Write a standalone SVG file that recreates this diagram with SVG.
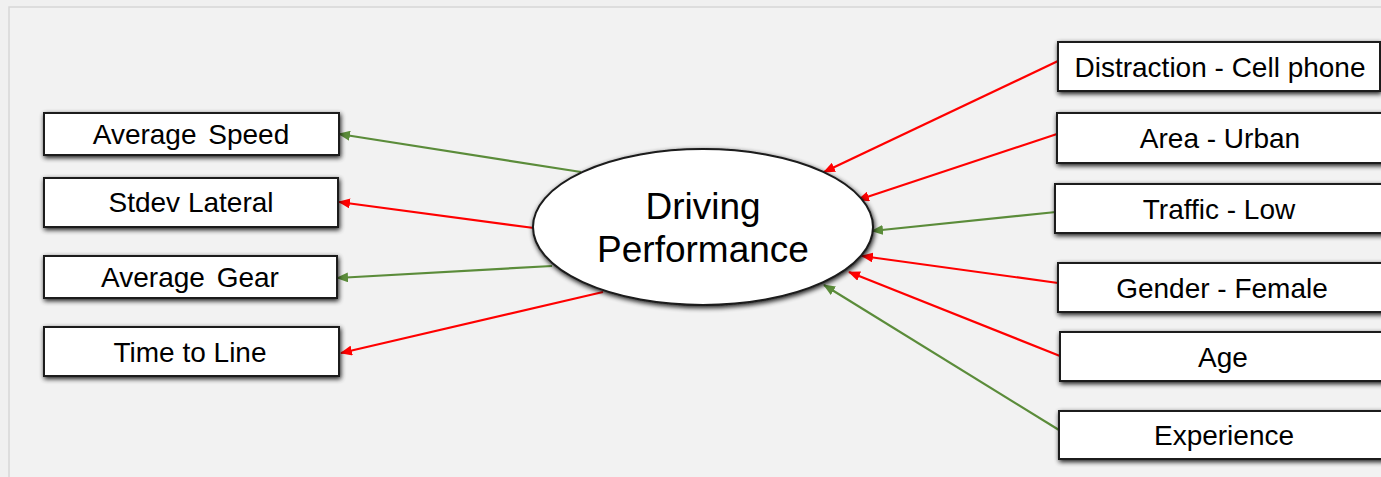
<svg xmlns="http://www.w3.org/2000/svg" width="1381" height="477" viewBox="0 0 1381 477">
  <defs>
    <filter id="shadow" x="-10%" y="-30%" width="120%" height="160%">
      <feGaussianBlur in="SourceAlpha" stdDeviation="2.5"/>
      <feOffset dx="1" dy="1.5" result="blur"/>
      <feComponentTransfer><feFuncA type="linear" slope="0.9"/></feComponentTransfer>
      <feMerge><feMergeNode/><feMergeNode in="SourceGraphic"/></feMerge>
    </filter>
    <marker id="head-red" viewBox="0 0 12 10" refX="11" refY="5" markerWidth="12" markerHeight="10" markerUnits="userSpaceOnUse" orient="auto">
      <path d="M0,0 L12,5 L0,10 Z" fill="#ff0000"/>
    </marker>
    <marker id="head-green" viewBox="0 0 12 10" refX="11" refY="5" markerWidth="12" markerHeight="10" markerUnits="userSpaceOnUse" orient="auto">
      <path d="M0,0 L12,5 L0,10 Z" fill="#5b8c3a"/>
    </marker>
  </defs>
  <style>
    .box { fill: #ffffff; stroke: #1a1a1a; stroke-width: 2; filter: url(#shadow); }
    .label { font-family: "Liberation Sans", Arial, sans-serif; font-size: 28px; fill: #000; text-anchor: middle; }
    .title { font-family: "Liberation Sans", Arial, sans-serif; font-size: 37px; fill: #000; text-anchor: middle; }
    .red { stroke: #ff0000; stroke-width: 2.2; fill: none; marker-end: url(#head-red); }
    .green { stroke: #5b8c3a; stroke-width: 2.2; fill: none; marker-end: url(#head-green); }
  </style>

  <!-- canvas -->
  <rect x="0" y="0" width="1381" height="477" fill="#f0f0f0"/>
  <rect x="9" y="7" width="1380" height="480" fill="#f2f2f2" stroke="#d6d6d6" stroke-width="1.5"/>

  <!-- connectors -->
  <g id="connectors">
    <line class="green" x1="581" y1="172" x2="339" y2="134"/>
    <line class="red" x1="534" y1="228" x2="339" y2="202"/>
    <line class="green" x1="552" y1="266" x2="337" y2="278"/>
    <line class="red" x1="603" y1="292" x2="341" y2="353"/>
    <line class="red" x1="1058" y1="61" x2="824" y2="172"/>
    <line class="red" x1="1057" y1="134" x2="858" y2="200"/>
    <line class="green" x1="1056" y1="212" x2="872" y2="231"/>
    <line class="red" x1="1058" y1="283" x2="862" y2="256"/>
    <line class="red" x1="1060" y1="356" x2="849" y2="272"/>
    <line class="green" x1="1059" y1="430" x2="824" y2="285"/>
  </g>

  <!-- central concept -->
  <g id="driving-performance">
    <ellipse cx="703" cy="227" rx="170" ry="78" fill="#ffffff" stroke="#1a1a1a" stroke-width="2" filter="url(#shadow)"/>
    <text class="title" x="703" y="219">Driving</text>
    <text class="title" x="703" y="262">Performance</text>
  </g>

  <!-- outcome measures -->
  <g id="average-speed">
    <rect class="box" x="44" y="113" width="295" height="42"/>
    <text class="label" x="191" y="144" word-spacing="4">Average Speed</text>
  </g>
  <g id="stdev-lateral">
    <rect class="box" x="44" y="178" width="294" height="49"/>
    <text class="label" x="191" y="212">Stdev Lateral</text>
  </g>
  <g id="average-gear">
    <rect class="box" x="44" y="256" width="293" height="42"/>
    <text class="label" x="190" y="287" word-spacing="4">Average Gear</text>
  </g>
  <g id="time-to-line">
    <rect class="box" x="44" y="327" width="295" height="49"/>
    <text class="label" x="190" y="362">Time to Line</text>
  </g>

  <!-- factors -->
  <g id="distraction">
    <rect class="box" x="1058" y="42" width="322" height="49"/>
    <text class="label" x="1220" y="77">Distraction - Cell phone</text>
  </g>
  <g id="area">
    <rect class="box" x="1057" y="113" width="330" height="50"/>
    <text class="label" x="1220" y="148">Area - Urban</text>
  </g>
  <g id="traffic">
    <rect class="box" x="1055" y="184" width="332" height="49"/>
    <text class="label" x="1219" y="219">Traffic - Low</text>
  </g>
  <g id="gender">
    <rect class="box" x="1058" y="263" width="330" height="49"/>
    <text class="label" x="1222" y="298">Gender - Female</text>
  </g>
  <g id="age">
    <rect class="box" x="1060" y="332" width="330" height="49"/>
    <text class="label" x="1223" y="367">Age</text>
  </g>
  <g id="experience">
    <rect class="box" x="1059" y="411" width="330" height="48"/>
    <text class="label" x="1224" y="445">Experience</text>
  </g>
</svg>
